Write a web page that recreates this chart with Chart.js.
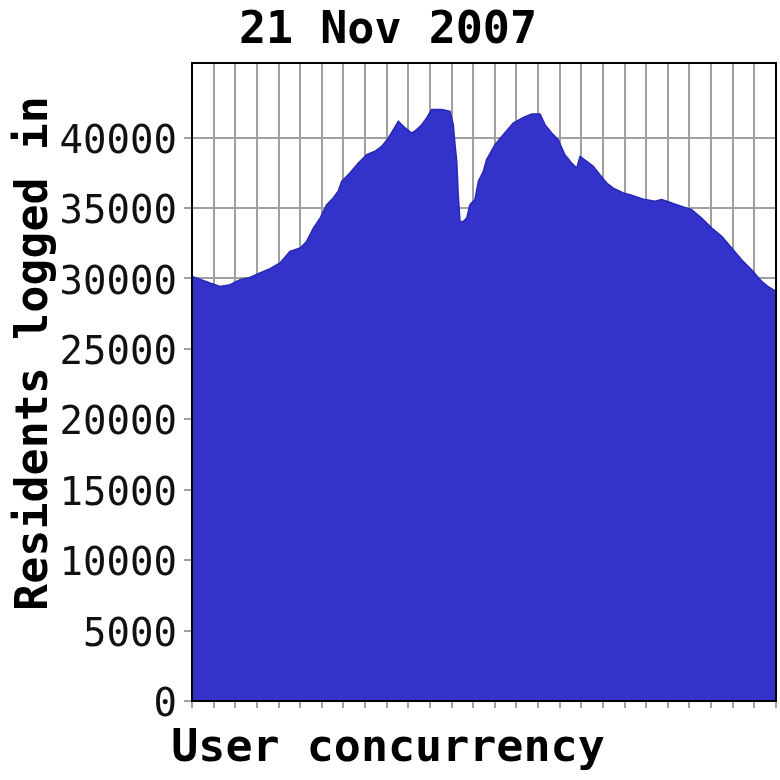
<!DOCTYPE html>
<html>
<head>
<meta charset="utf-8">
<script src="https://cdn.jsdelivr.net/npm/chart.js@4.4.1/dist/chart.umd.min.js"></script>
<style>
  html, body { margin: 0; padding: 0; background: #ffffff; }
  #wrap { width: 780px; height: 780px; }
</style>
</head>
<body>
<div id="wrap"><canvas id="c" width="780" height="780"></canvas></div>
<script>
const chartTitle = '21 Nov 2007';
const xTitle = 'User concurrency';
const yTitle = 'Residents logged in';

// position along the time axis (grid units, 0..27)
const timePos = [
  0, 0.83, 1.29, 1.76, 2.22, 2.68, 3.14, 3.61, 4.07, 4.53,
  5.00, 5.30, 5.61, 5.92, 6.23, 6.53, 6.76, 6.92, 7.30, 7.69,
  8.08, 8.46, 8.77, 9.08, 9.31, 9.54, 9.85, 10.16, 10.39, 10.62,
  10.85, 11.08, 11.54, 11.93, 12.08, 12.16, 12.24, 12.31, 12.39, 12.54,
  12.70, 12.85, 13.08, 13.24, 13.47, 13.62, 14.01, 14.39, 14.85, 15.32,
  15.71, 16.09, 16.32, 16.63, 16.93, 17.24, 17.55, 17.79, 17.94, 18.25,
  18.55, 18.86, 19.17, 19.48, 19.94, 20.25, 20.94, 21.40, 21.72, 22.18,
  22.64, 23.10, 23.56, 24.03, 24.49, 24.95, 25.41, 25.87, 26.34, 26.62,
  27
];
const residents = [
  30150, 29680, 29440, 29560, 29910, 30080, 30390, 30690, 31100, 31920,
  32160, 32630, 33580, 34290, 35240, 35720, 36190, 36900, 37490, 38200,
  38790, 39030, 39380, 39980, 40570, 41160, 40690, 40330, 40570, 40920,
  41400, 41990, 41990, 41870, 40920, 39500, 38320, 35950, 34050, 34050,
  34290, 35240, 35600, 36900, 37610, 38440, 39500, 40210, 41040, 41440,
  41680, 41680, 40920, 40330, 39860, 38790, 38200, 37840, 38670, 38320,
  37960, 37370, 36780, 36420, 36070, 35950, 35600, 35480, 35600, 35360,
  35120, 34880, 34290, 33580, 32990, 32160, 31330, 30620, 29790, 29440,
  29080
];
const yTicks = [0, 5000, 10000, 15000, 20000, 25000, 30000, 35000, 40000];

const points = timePos.map((t, i) => ({ x: t, y: residents[i] }));

const framePlugin = {
  id: 'frame',
  afterDatasetsDraw(chart) {
    const { ctx, chartArea: a } = chart;
    ctx.save();
    ctx.strokeStyle = '#000000';
    ctx.lineWidth = 2;
    ctx.strokeRect(a.left, a.top, a.right - a.left, a.bottom - a.top);
    ctx.restore();
  },
  afterDraw(chart) {
    const { ctx } = chart;
    ctx.save();
    ctx.translate(35.5, 353.5);
    ctx.rotate(-Math.PI / 2);
    ctx.fillStyle = '#000000';
    ctx.font = 'bold 45px "DejaVu Sans Mono"';
    ctx.textAlign = 'center';
    ctx.textBaseline = 'middle';
    ctx.fillText(yTitle, 0, 0);
    ctx.restore();
  }
};

new Chart(document.getElementById('c'), {
  type: 'line',
  data: {
    datasets: [{
      data: points,
      fill: 'origin',
      backgroundColor: '#3333cc',
      borderColor: '#2828b4',
      borderWidth: 1.5,
      pointRadius: 0,
      tension: 0
    }]
  },
  options: {
    responsive: false,
    animation: false,
    events: [],
    layout: { padding: { left: 0, right: 4, top: 0, bottom: 0 } },
    plugins: {
      legend: { display: false },
      tooltip: { enabled: false },
      title: {
        display: true,
        text: chartTitle,
        color: '#000000',
        font: { family: 'DejaVu Sans Mono', size: 45, weight: 'bold', lineHeight: 1 },
        padding: { top: 9, bottom: 9 }
      },
      subtitle: {
        display: true,
        position: 'bottom',
        text: xTitle,
        color: '#000000',
        font: { family: 'DejaVu Sans Mono', size: 45, weight: 'bold', lineHeight: 1 },
        padding: { top: 10, bottom: 8 }
      }
    },
    scales: {
      x: {
        type: 'linear',
        min: 0,
        max: 27,
        ticks: { display: false, stepSize: 1 },
        grid: { color: '#a0a0a0', lineWidth: 2, drawTicks: true, tickLength: 7, tickColor: '#a0a0a0' },
        border: { display: true, color: '#000000', width: 2 },
        afterFit(scale) { scale.height = 16; }
      },
      y: {
        min: 0,
        max: 45300,
        afterBuildTicks(scale) { scale.ticks = yTicks.map(v => ({ value: v })); },
        ticks: {
          color: '#111111',
          font: { family: 'DejaVu Sans Mono', size: 39 },
          padding: 7,
          labelOffset: 5,
          callback: (v) => String(v)
        },
        grid: { color: '#a0a0a0', lineWidth: 2, drawTicks: true, tickLength: 8, tickColor: '#a0a0a0' },
        border: { display: true, color: '#000000', width: 2 },
        afterFit(scale) { scale.width = 192; }
      }
    }
  },
  plugins: [framePlugin]
});
</script>
</body>
</html>
